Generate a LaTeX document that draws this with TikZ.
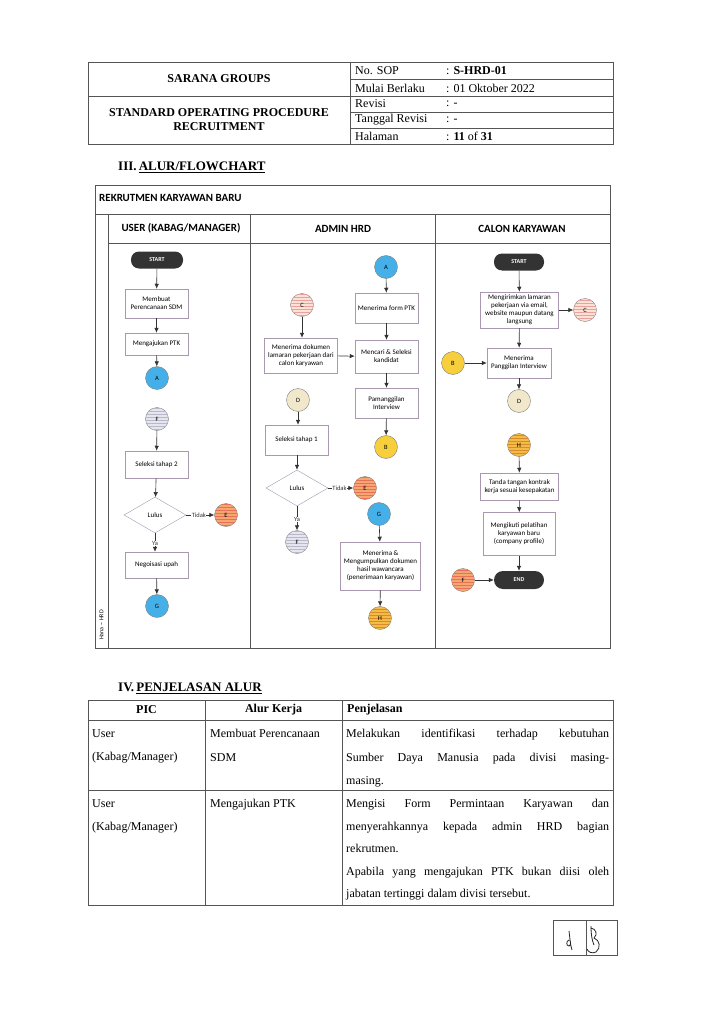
\documentclass[tikz,border=0pt]{standalone}
\usepackage{fontspec}
\setmainfont{Liberation Serif}
\newfontfamily\calf{Carlito}
\usetikzlibrary{arrows.meta,shapes.geometric,patterns}
\definecolor{frame}{HTML}{555555}
\definecolor{boxline}{HTML}{A898B0}
\definecolor{termc}{HTML}{333333}
\definecolor{cblue}{HTML}{45B0E8}
\definecolor{cyel}{HTML}{F7CE3C}
\definecolor{corange}{HTML}{F4A870}
\definecolor{corangeS}{HTML}{E8705A}
\definecolor{chy}{HTML}{F3BC45}
\definecolor{chyS}{HTML}{D98A30}
\definecolor{cpink}{HTML}{FBE2D4}
\definecolor{cpinkS}{HTML}{E8A0A0}
\definecolor{cbeige}{HTML}{F1E8CC}
\definecolor{clav}{HTML}{E6E6F0}
\definecolor{clavS}{HTML}{B8B8C8}
\tikzset{
  lin/.style={draw=frame, line width=0.7pt},
  fbox/.style={draw=boxline, fill=white, font=\calf\fontsize{7}{8}\selectfont, align=center, inner sep=1pt, line width=0.5pt},
  conn/.style={circle, draw=gray, line width=0.4pt, minimum size=23pt, inner sep=0pt, font=\calf\fontsize{6.5}{7}\selectfont},
  striped/.style={postaction={pattern=horizontal lines, pattern color=#1}},
  term/.style={rectangle, rounded corners=8pt, fill=termc, text=white, font=\calf\bfseries\fontsize{6}{6.5}\selectfont, inner sep=0pt},
  dia/.style={diamond, draw=boxline, fill=white, aspect=1.7, inner sep=0pt, minimum width=62pt, minimum height=36pt, font=\calf\fontsize{7}{8}\selectfont},
  arr/.style={draw=black!80, line width=0.6pt, -{Latex[length=5pt,width=4.5pt]}},
  lab/.style={fill=white, inner sep=0.5pt, font=\calf\fontsize{6.5}{7}\selectfont, text=black!80},
  hdr/.style={font=\fontsize{12}{14}\selectfont},
  colh/.style={font=\calf\bfseries\fontsize{11}{12}\selectfont},
  tbl/.style={font=\fontsize{12}{23.5}\selectfont, anchor=north west, inner sep=0pt}
}
\begin{document}
\begin{tikzpicture}[x=1pt,y=-1pt]
\useasboundingbox (0,0) rectangle (704,1024);
\fill[white] (0,0) rectangle (704,1024);

% ---------- header table ----------
\draw[lin] (88,62) rectangle (613,144);
\draw[lin] (350,62) -- (350,144);
\draw[lin] (88,96) -- (350,96);
\foreach \yy in {79,96,112,128} \draw[lin] (350,\yy) -- (613,\yy);
\node[hdr, font=\bfseries\fontsize{12}{14}\selectfont] (hsg) at (219,79) {SARANA GROUPS};
\node[hdr, font=\bfseries\fontsize{12}{14}\selectfont, align=center] (hsop) at (219,120) {STANDARD OPERATING PROCEDURE\\RECRUITMENT};
\node[hdr, anchor=west, inner sep=0pt] (k1) at (355,71) {No. SOP};
\node[hdr, anchor=west, inner sep=0pt] (k2) at (355,88) {Mulai Berlaku};
\node[hdr, anchor=west, inner sep=0pt] (k3) at (355,104) {Revisi};
\node[hdr, anchor=west, inner sep=0pt] (k4) at (355,120) {Tanggal Revisi};
\node[hdr, anchor=west, inner sep=0pt] (k5) at (355,136) {Halaman};
\node[hdr, anchor=west, inner sep=0pt] (v1) at (446,71) {: \textbf{S-HRD-01}};
\node[hdr, anchor=west, inner sep=0pt] (v2) at (446,88) {: 01 Oktober 2022};
\node[hdr, anchor=west, inner sep=0pt] (v3) at (446,104) {: -};
\node[hdr, anchor=west, inner sep=0pt] (v4) at (446,120) {: -};
\node[hdr, anchor=west, inner sep=0pt] (v5) at (446,136) {: \textbf{11} of \textbf{31}};

\node[anchor=west, inner sep=0pt, font=\bfseries\fontsize{13}{15}\selectfont] (sec3) at (118,167) {III.\,\underline{ALUR/FLOWCHART}};

% ---------- flowchart frame ----------
\draw[lin] (95,185) rectangle (610,648);
\draw[lin] (95,214) -- (610,214);
\draw[lin] (108,214) -- (108,648);
\draw[lin] (108,243) -- (610,243);
\draw[lin] (250,214) -- (250,648);
\draw[lin] (435,214) -- (435,648);
\node[anchor=west, inner sep=0pt, colh] (ftitle) at (99,198) {REKRUTMEN KARYAWAN BARU};
\node[colh] (h1) at (181,228.5) {USER (KABAG/MANAGER)};
\node[colh] (h2) at (343,228.5) {ADMIN HRD};
\node[colh] (h3) at (522,228.5) {CALON KARYAWAN};
\node[rotate=90, font=\calf\fontsize{6}{6.5}\selectfont] (hana) at (101.5,625) {Hana -- HRD};

% ---------- USER lane ----------
\node[term, minimum width=52pt, minimum height=17pt] (us) at (157,260) {START};
\node[fbox, minimum width=63pt, minimum height=29pt] (u1) at (156.5,303.5) {Membuat\\Perencanaan SDM};
\node[fbox, minimum width=63pt, minimum height=22pt] (u2) at (156.5,344) {Mengajukan PTK};
\node[conn, fill=cblue] (uA) at (157,378) {A};
\node[conn, fill=clav, striped=clavS] (uF) at (157,419) {F};
\node[fbox, minimum width=63pt, minimum height=27pt] (u3) at (156.5,464.5) {Seleksi tahap 2};
\node[dia] (ud) at (155,515) {Lulus};
\node[conn, fill=corange, striped=corangeS] (uE) at (226,515) {E};
\node[fbox, minimum width=63pt, minimum height=26pt] (u4) at (156.5,565) {Negoisasi upah};
\node[conn, fill=cblue] (uG) at (157,606) {G};
\draw[arr] (us) -- (u1);
\draw[arr] (u1) -- (u2);
\draw[arr] (u2) -- (uA);
\draw[arr] (uF) -- (u3);
\draw[arr] (u3) -- (ud);
\draw[arr] (ud) -- node[lab, pos=0.45] {Tidak} (uE);
\draw[arr] (ud.south) -- node[lab, pos=0.55] {Ya} (u4.north -| ud.south);
\draw[arr] (u4) -- (uG);

% ---------- ADMIN lane ----------
\node[conn, fill=cblue] (aA) at (386,267) {A};
\node[fbox, minimum width=63pt, minimum height=30pt] (a1) at (386.5,308) {Menerima form PTK};
\node[conn, fill=cpink, striped=cpinkS] (aC) at (302,305) {C};
\node[fbox, minimum width=73pt, minimum height=35pt] (a2) at (301,355.5) {Menerima dokumen\\lamaran pekerjaan dari\\calon karyawan};
\node[fbox, minimum width=63pt, minimum height=33pt] (a3) at (386.5,356.5) {Mencari \& Seleksi\\kandidat};
\node[fbox, minimum width=63pt, minimum height=30pt] (a4) at (386.5,403) {Pamanggilan\\Interview};
\node[conn, fill=cyel] (aB) at (386,447) {B};
\node[conn, fill=cbeige] (aD) at (298,400) {D};
\node[fbox, minimum width=63pt, minimum height=30pt] (a5) at (296.5,440) {Seleksi tahap 1};
\node[dia] (ad) at (297,488) {Lulus};
\node[conn, fill=corange, striped=corangeS] (aE) at (365,488) {E};
\node[conn, fill=clav, striped=clavS] (aF) at (297,542) {F};
\node[conn, fill=cblue] (aG) at (379,514) {G};
\node[fbox, minimum width=80pt, minimum height=48pt] (a6) at (380.5,566) {Menerima \&\\Mengumpulkan dokumen\\hasil wawancara\\(penerimaan karyawan)};
\node[conn, fill=chy, striped=chyS] (aH) at (380,618) {H};
\draw[arr] (aA) -- (a1);
\draw[arr] (a1) -- (a3);
\draw[arr] (a3) -- (a4);
\draw[arr] (a4) -- (aB);
\draw[arr] (aC) -- (a2.north -| aC);
\draw[arr] (a2) -- (a3);
\draw[arr] (aD) -- (a5.north -| aD);
\draw[arr] (a5.south -| ad) -- (ad);
\draw[arr] (ad) -- node[lab, pos=0.45] {Tidak} (aE);
\draw[arr] (ad) -- node[lab, pos=0.55] {Ya} (aF);
\draw[arr] (aG) -- (a6);
\draw[arr] (a6) -- (aH);

% ---------- CALON lane ----------
\node[term, minimum width=50pt, minimum height=17pt] (cs) at (519,262) {START};
\node[fbox, minimum width=78pt, minimum height=36pt] (c1) at (519.5,310) {Mengirimkan lamaran\\pekerjaan via email,\\website maupun datang\\langsung};
\node[conn, fill=cpink, striped=cpinkS] (cC) at (585,310) {C};
\node[fbox, minimum width=64pt, minimum height=30pt] (c2) at (519,363) {Menerima\\Panggilan Interview};
\node[conn, fill=cyel] (cB) at (453,363) {B};
\node[conn, fill=cbeige] (cD) at (519,401) {D};
\node[conn, fill=chy, striped=chyS] (cH) at (519,445) {H};
\node[fbox, minimum width=78pt, minimum height=27pt] (c3) at (519.5,486.5) {Tanda tangan kontrak\\kerja sesuai kesepakatan};
\node[fbox, minimum width=72pt, minimum height=43pt] (c4) at (519,534) {Mengikuti pelatihan\\karyawan baru\\(company profile)};
\node[term, minimum width=50pt, minimum height=18pt, rounded corners=9pt] (ce) at (519,580) {END};
\node[conn, fill=corange, striped=corangeS] (cF) at (463,580) {F};
\draw[arr] (cs) -- (c1);
\draw[arr] (c1) -- (cC);
\draw[arr] (c1) -- (c2);
\draw[arr] (cB) -- (c2);
\draw[arr] (c2) -- (cD);
\draw[arr] (cH) -- (c3);
\draw[arr] (c3) -- (c4);
\draw[arr] (c4) -- (ce);
\draw[arr] (cF) -- (ce);

% ---------- section IV ----------
\node[anchor=west, inner sep=0pt, font=\bfseries\fontsize{13}{15}\selectfont] (sec4) at (118,688) {IV.\,\underline{PENJELASAN ALUR}};
\draw[lin] (88,700) rectangle (613,905);
\draw[lin] (205,700) -- (205,905);
\draw[lin] (342,700) -- (342,905);
\draw[lin] (88,720) -- (613,720);
\draw[lin] (88,790) -- (613,790);
\node[font=\bfseries\fontsize{12}{14}\selectfont] (t1) at (146.5,710) {PIC};
\node[font=\bfseries\fontsize{12}{14}\selectfont] (t2) at (273.5,710) {Alur Kerja};
\node[anchor=west, inner sep=0pt, font=\bfseries\fontsize{12}{14}\selectfont] (t3) at (347,710) {Penjelasan};
\node[tbl, align=left] (r1a) at (92,729) {User\\(Kabag/Manager)};
\node[tbl, align=left] (r1b) at (210,729) {Membuat Perencanaan\\SDM};
\node[tbl, text width=263pt, align=justify] (r1c) at (346,729) {Melakukan identifikasi terhadap kebutuhan\linebreak Sumber Daya Manusia pada divisi masing-\linebreak masing.};
\node[tbl, align=left] (r2a) at (92,799) {User\\(Kabag/Manager)};
\node[tbl, align=left] (r2b) at (210,799) {Mengajukan PTK};
\node[tbl, text width=263pt, align=justify, font=\fontsize{12}{22.5}\selectfont] (r2c) at (346,799) {Mengisi Form Permintaan Karyawan dan\linebreak menyerahkannya kepada admin HRD bagian\linebreak rekrutmen.\par Apabila yang mengajukan PTK bukan diisi oleh\linebreak jabatan tertinggi dalam divisi tersebut.};

% ---------- signature box ----------
\draw[draw=frame, line width=0.6pt] (553,920) rectangle (617,955);
\draw[draw=frame, line width=0.6pt] (586,920) -- (586,955);
\draw[line width=0.8pt, black!85] (569,931) .. controls (570,938) and (570,944) .. (572,950)
  (569,940) .. controls (566,941) and (566,946) .. (569,946) .. controls (571,946) and (571,943) .. (570,940);
\draw[line width=0.8pt, black!85] (591,926) .. controls (591,935) and (592,940) .. (594,945)
  (591,928) .. controls (596,929) and (598,934) .. (594,938) .. controls (600,940) and (601,948) .. (596,952) .. controls (592,954) and (588,952) .. (587,949);
\end{tikzpicture}
\end{document}
